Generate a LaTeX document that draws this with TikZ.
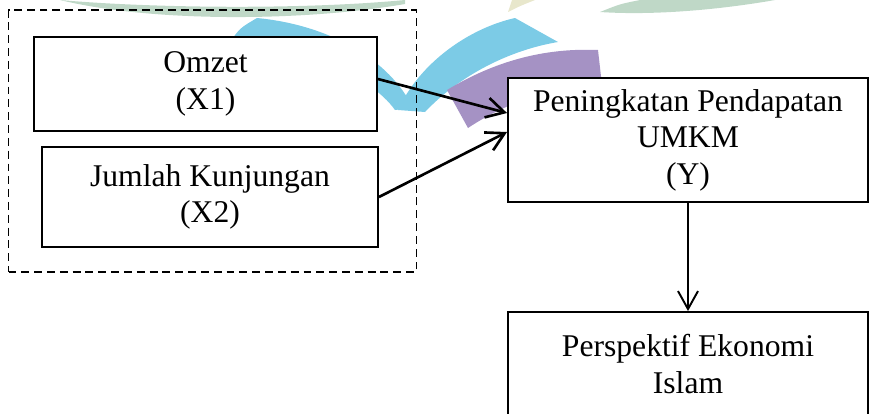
\documentclass[tikz,border=0pt]{standalone}
\usepackage{fontspec}
\setmainfont{Liberation Serif}
\usetikzlibrary{arrows.meta}
\definecolor{wmblue}{HTML}{7CCBE6}
\definecolor{wmpurple}{HTML}{A592C4}
\definecolor{wmgreen}{HTML}{5E9E74}
\begin{document}
\begin{tikzpicture}[x=0.02cm,y=-0.02cm,
  every node/.style={font=\fontsize{18}{20.8}\selectfont,align=center},
  box/.style={draw,line width=1.1pt,fill=white,inner sep=0pt},
  link/.style={line width=1.5pt,-{Straight Barb[length=0.36cm,width=0.4cm]}}]
\useasboundingbox (0,0) rectangle (869,413);
\clip (0,0) rectangle (869,413);
% watermark
\fill[wmgreen,opacity=0.4] (60,0) .. controls (150,22) and (300,22) .. (405,4) -- (405,0) .. controls (300,10) and (150,8) .. cycle;
\fill[wmgreen,opacity=0.4] (600,12) .. controls (660,16) and (730,8) .. (775,0) -- (640,0) .. controls (620,4) .. cycle;
\fill[olive,opacity=0.2] (508,12) .. controls (520,6) .. (535,0) -- (512,0) -- cycle;
\fill[wmblue] (230,42) .. controls (240,28) .. (257,18) .. controls (330,25) and (390,60) .. (413,108) -- (395,110) .. controls (370,75) and (300,45) .. cycle;
\fill[wmblue] (398,110) .. controls (420,62) and (470,28) .. (515,18) -- (558,42) .. controls (510,50) and (460,75) .. (425,112) -- cycle;
\fill[wmpurple] (447,90) .. controls (500,58) and (550,48) .. (598,50) -- (602,85) .. controls (560,85) and (510,100) .. (468,128) -- cycle;
% variables X
\node[draw,dashed,dash pattern=on 4.5pt off 2.8pt,line width=0.9pt,minimum width=8.16cm,minimum height=5.24cm] (varx) at (212.5,141) {};
\node[box,minimum width=6.86cm,minimum height=1.88cm] (omzet) at (205.5,84) {Omzet\\(X1)};
\node[box,minimum width=6.72cm,minimum height=2.0cm] (kunjungan) at (210,197) {Jumlah Kunjungan\\(X2)};
% variable Y
\node[box,minimum width=7.2cm,minimum height=2.48cm] (umkm) at (688,140) {Peningkatan Pendapatan\\UMKM\\(Y)};
\node[box,minimum width=7.2cm,minimum height=2.08cm] (islam) at (688,364) {Perspektif Ekonomi\\Islam};
\draw[link] ([yshift=0.1cm]omzet.east) -- ([yshift=0.54cm]umkm.west);
\draw[link] (kunjungan.east) -- ([yshift=0.16cm]umkm.west);
\draw[link,line width=1.1pt] (umkm.south) -- (islam.north);
\end{tikzpicture}
\end{document}
